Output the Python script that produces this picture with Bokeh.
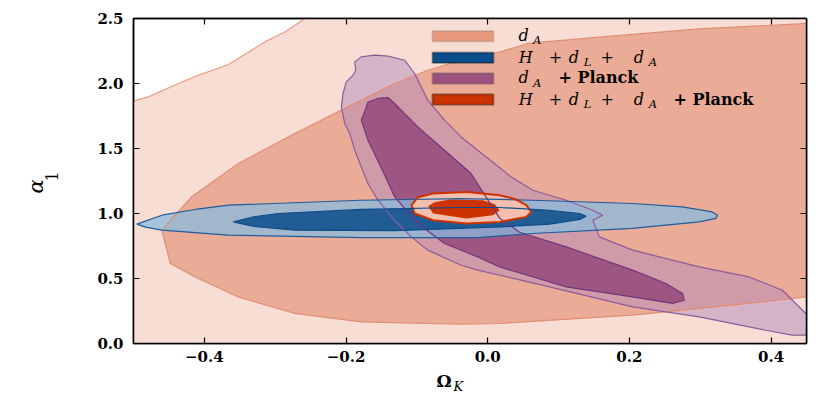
from bokeh.plotting import figure
from bokeh.layouts import row, column
from bokeh.models import Range1d, FixedTicker, LinearAxis, Label, BoxAnnotation, CustomJSTickFormatter
from bokeh.embed import file_html
from bokeh.resources import INLINE
import math

# ---------------- data ----------------
x_ticks = [-0.4, -0.2, 0.0, 0.2, 0.4]
x_tick_labels = ["\u22120.4", "\u22120.2", "0.0", "0.2", "0.4"]
y_ticks = [0.0, 0.5, 1.0, 1.5, 2.0, 2.5]
y_tick_labels = ["0.0", "0.5", "1.0", "1.5", "2.0", "2.5"]

# d_A, 95% region (everything below/right of this boundary)
dA95_x = [-0.6, -0.52, -0.5, -0.479, -0.4366, -0.408, -0.366, -0.3145, -0.2845, -0.258, -0.245, 0.6, 0.6, -0.6]
dA95_y = [1.84, 1.84, 1.864, 1.897, 2.0, 2.064, 2.146, 2.320, 2.402, 2.5, 2.6, 2.6, -0.1, -0.1]

# d_A, 68% region
dA68_x = [0.47, 0.439, 0.2986, 0.1577, 0.0563, 0.0169, -0.0376, -0.0845, -0.1314, -0.2066, -0.2723,
          -0.352, -0.385, -0.418, -0.460, -0.448, -0.413, -0.352, -0.272, -0.1785, -0.0376, 0.0169,
          0.204, 0.345, 0.449, 0.47]
dA68_y = [2.472, 2.458, 2.420, 2.356, 2.308, 2.241, 2.179, 2.102, 2.0, 1.795, 1.615,
          1.385, 1.256, 1.128, 0.872, 0.615, 0.512, 0.358, 0.231, 0.166, 0.148, 0.154,
          0.218, 0.295, 0.358, 0.372]

# H + d_L + d_A, 95% region
hda95_x = [-0.4953, -0.460, -0.413, -0.366, -0.1789, -0.038, 0.0634, 0.2042, 0.2746, 0.3169, 0.3244,
           0.322, 0.2986, 0.2042, 0.0634, -0.0141, -0.1789, -0.366, -0.460, -0.483]
hda95_y = [0.918, 0.987, 1.031, 1.064, 1.102, 1.115, 1.102, 1.077, 1.051, 1.012, 0.987,
           0.962, 0.935, 0.885, 0.846, 0.815, 0.815, 0.833, 0.872, 0.895]

# H + d_L + d_A, 68% region
hda68_x = [-0.359, -0.33, -0.296, -0.178, -0.038, 0.017, 0.087, 0.130, 0.139,
           0.130, 0.087, 0.017, -0.131, -0.272, -0.33]
hda68_y = [0.935, 0.975, 1.0, 1.031, 1.046, 1.046, 1.025, 1.0, 0.979,
           0.955, 0.918, 0.897, 0.868, 0.872, 0.9]

# d_A + Planck, 95% region
pl95_x = [-0.1785, -0.1596, -0.1408, -0.1173, -0.1032, -0.0939, -0.0845, -0.061, -0.0376, -0.0141,
          0.0094, 0.0328, 0.0638, 0.1108, 0.1483, 0.1624, 0.1483, 0.1577, 0.2046, 0.2986, 0.369,
          0.416, 0.449, 0.47, 0.47, 0.430, 0.3925, 0.2986, 0.2046, 0.0873, 0.0169, -0.0141,
          -0.0376, -0.0845, -0.108, -0.1314, -0.155, -0.169, -0.1785, -0.1877, -0.1948, -0.2018,
          -0.2066, -0.2042, -0.1996, -0.190, -0.1863, -0.1877]
pl95_y = [2.205, 2.218, 2.210, 2.179, 2.077, 1.974, 1.871, 1.718, 1.589, 1.487,
          1.385, 1.282, 1.179, 1.102, 1.025, 0.987, 0.948, 0.820, 0.718, 0.589, 0.512,
          0.410, 0.231, 0.21, 0.064, 0.064, 0.102, 0.205, 0.282, 0.435, 0.525, 0.564,
          0.602, 0.718, 0.820, 0.948, 1.102, 1.231, 1.358, 1.487, 1.615, 1.692,
          1.820, 1.923, 2.012, 2.064, 2.102, 2.166]

# d_A + Planck, 68% region
pl68_x = [-0.155, -0.1408, -0.1314, -0.0986, -0.061, -0.0235, -0.0042, 0.0169, 0.045, 0.1108, 0.2046,
          0.2517, 0.275, 0.2775, 0.261, 0.2046, 0.1108, 0.0169, -0.0141, -0.061, -0.0986, -0.1314,
          -0.150, -0.169, -0.1785, -0.173, -0.169]
pl68_y = [1.885, 1.892, 1.846, 1.666, 1.487, 1.308, 1.141, 0.964, 0.856, 0.743, 0.564,
          0.462, 0.385, 0.333, 0.308, 0.358, 0.435, 0.589, 0.666, 0.769, 0.923, 1.128,
          1.348, 1.564, 1.718, 1.795, 1.858]

# H + d_L + d_A + Planck, 95% region
all95_x = [-0.1075, -0.0986, -0.077, -0.030, 0.0169, 0.039, 0.0545, 0.0615, 0.0545, 0.0169, -0.030, -0.077, -0.103]
all95_y = [1.064, 1.125, 1.154, 1.166, 1.141, 1.110, 1.064, 1.012, 0.974, 0.935, 0.923, 0.948, 1.0]

# H + d_L + d_A + Planck, 68% region
all68_x = [-0.084, -0.075, -0.0535, -0.0066, 0.0099, 0.0169, 0.0075, -0.030, -0.077]
all68_y = [1.056, 1.087, 1.108, 1.102, 1.072, 1.025, 0.987, 0.962, 1.0]

# ---------------- main figure ----------------
SERIF = "DejaVu Serif"
YW = 70            # width of the strip that carries the y-axis title
PH = 368           # height of the main figure
XH = 409 - PH      # height of the strip that carries the x-axis title
FL = 133           # page x of the frame's left edge
BASE = 0.33        # Bokeh draws an 'alphabetic' label this many font sizes below its anchor

p = figure(frame_width=673, frame_height=325,
           x_range=Range1d(-0.5, 0.45), y_range=Range1d(0, 2.5),
           output_backend="svg", toolbar_location=None,
           min_border_left=FL - YW, min_border_right=15, min_border_top=18, min_border_bottom=PH - 18 - 325,
           background_fill_color="white", border_fill_color="white")
p.title.visible = False
p.grid.visible = False
p.outline_line_color = "black"
p.outline_line_width = 1.5

# fills
p.patch(dA95_x, dA95_y, fill_color="#f8ddd5", line_color=None)
p.patch(dA68_x, dA68_y, fill_color="#eaab97", line_color=None)
p.patch(pl95_x, pl95_y, fill_color="#b48cba", fill_alpha=0.5, line_color=None)
p.patch(pl68_x, pl68_y, fill_color="#974f7d", fill_alpha=0.9, line_color=None)
p.patch(hda95_x, hda95_y, fill_color="#8abadd", fill_alpha=0.75, line_color=None)
p.patch(hda68_x, hda68_y, fill_color="#0b4d8a", fill_alpha=0.85, line_color=None)
p.patch(all95_x, all95_y, fill_color="#f3bfae", line_color=None)
p.patch(all68_x, all68_y, fill_color="#cc3300", line_color=None)

# contour lines
p.patch(dA95_x, dA95_y, fill_color=None, line_color="#eb9e85", line_width=1.2)
p.patch(dA68_x, dA68_y, fill_color=None, line_color="#e28d72", line_width=1.2)
p.patch(pl95_x, pl95_y, fill_color=None, line_color="#8d5b9c", line_width=1.2)
p.patch(pl68_x, pl68_y, fill_color=None, line_color="#74357a", line_width=1.2)
p.patch(hda95_x, hda95_y, fill_color=None, line_color="#1f5d9c", line_width=1.2)
p.patch(all95_x, all95_y, fill_color=None, line_color="#cc3300", line_width=2)
p.patch(hda68_x, hda68_y, fill_color=None, line_color="#0b4d8a", line_width=1.2)

# axes
fmt_x = CustomJSTickFormatter(args=dict(tv=x_ticks, tl=x_tick_labels),
                              code="const i = tv.indexOf(tick); return i >= 0 ? tl[i] : '';")
fmt_y = CustomJSTickFormatter(args=dict(tv=y_ticks, tl=y_tick_labels),
                              code="const i = tv.indexOf(tick); return i >= 0 ? tl[i] : '';")
blank = CustomJSTickFormatter(code="return '';")

def style_axis(ax, tick_list):
    ax.ticker = FixedTicker(ticks=tick_list, minor_ticks=[])
    ax.major_tick_in = 6
    ax.major_tick_out = 0
    ax.minor_tick_in = 0
    ax.minor_tick_out = 0
    ax.axis_line_width = 1.5
    ax.axis_line_color = "black"
    ax.major_tick_line_width = 1.2
    ax.major_label_text_font = SERIF
    ax.major_label_text_font_style = "bold"
    ax.major_label_text_font_size = "15px"
    ax.major_label_text_color = "black"

style_axis(p.xaxis[0], x_ticks)
p.xaxis[0].formatter = fmt_x
p.xaxis[0].major_label_standoff = 7
style_axis(p.yaxis[0], y_ticks)
p.yaxis[0].formatter = fmt_y
p.yaxis[0].major_label_standoff = 10

top_ax = LinearAxis()
style_axis(top_ax, x_ticks)
top_ax.formatter = blank
top_ax.major_label_standoff = 0
p.add_layout(top_ax, "above")
right_ax = LinearAxis()
style_axis(right_ax, y_ticks)
right_ax.formatter = blank
right_ax.major_label_standoff = 0
p.add_layout(right_ax, "right")

def lab(fig, x, y, text, size, style="normal", angle=0.0):
    # y is the wanted baseline (screen units, up from the frame bottom)
    if angle == 0.0:
        y = y + BASE * size
    fig.add_layout(Label(x=x, y=y, x_units="screen", y_units="screen", text=text,
                         text_font=SERIF, text_font_style=style, text_font_size=f"{size}px",
                         text_baseline="alphabetic", text_align="left", text_color="black",
                         angle=angle))

# legend (inside the frame, upper middle)
legend_fill = ["#e8987c", "#0b4d8b", "#9b517d", "#cc3300"]
legend_edge = ["#8a7d78", "black", "#5a4652", "black"]
row_tops = [312.5, 291.1, 270.3, 249.3]
for fc, ec, t in zip(legend_fill, legend_edge, row_tops):
    p.add_layout(BoxAnnotation(left=299, right=360, top=t, bottom=t - 10.6,
                               left_units="screen", right_units="screen",
                               top_units="screen", bottom_units="screen",
                               fill_color=fc, fill_alpha=1.0, line_color=ec, line_width=2))

MAIN = 16
SUB = 11.5
lab(p, 385, 302.7, "d", MAIN, "italic"); lab(p, 399.5, 299.3, "A", SUB, "italic")
for b in (280.8, 239.0):
    lab(p, 385.3, b, "H", MAIN, "italic")
    lab(p, 415.3, b, "+", MAIN)
    lab(p, 435.3, b, "d", MAIN, "italic"); lab(p, 450.3, b - 3.4, "L", SUB, "italic")
    lab(p, 467.0, b, "+", MAIN)
    lab(p, 500.3, b, "d", MAIN, "italic"); lab(p, 515.3, b - 3.4, "A", SUB, "italic")
lab(p, 385, 260.5, "d", MAIN, "italic"); lab(p, 399.5, 257.1, "A", SUB, "italic")
lab(p, 425, 260.5, "+ Planck", 16, "bold")
lab(p, 540, 239.0, "+ Planck", 16, "bold")

# ---------------- strips carrying the axis titles ----------------
def strip(w, h):
    f = figure(width=w, height=h, x_range=Range1d(0, 1), y_range=Range1d(0, 1),
               output_backend="svg", toolbar_location=None,
               x_axis_location=None, y_axis_location=None, min_border=0,
               background_fill_color="white", border_fill_color="white")
    f.title.visible = False
    f.grid.visible = False
    f.outline_line_color = None
    return f

# the column aligns this strip's frame with the main frame (page x = FL)
xf = strip(p.frame_width + (FL - YW) + 15, XH)
lab(xf, 436 - FL, 409 - 386, "\u03a9", 17, "bold")
lab(xf, 453 - FL, 409 - 390, "K", 13, "italic")

yf = strip(YW, 409)
lab(yf, 35, 409 - 193, "\u03b1", 21, "italic", math.pi / 2)
lab(yf, 51, 409 - 181, "1", 16, "normal", math.pi / 2)

layout = row(yf, column(p, xf, spacing=0), spacing=0)
open("out.html", "w").write(file_html(layout, INLINE))
